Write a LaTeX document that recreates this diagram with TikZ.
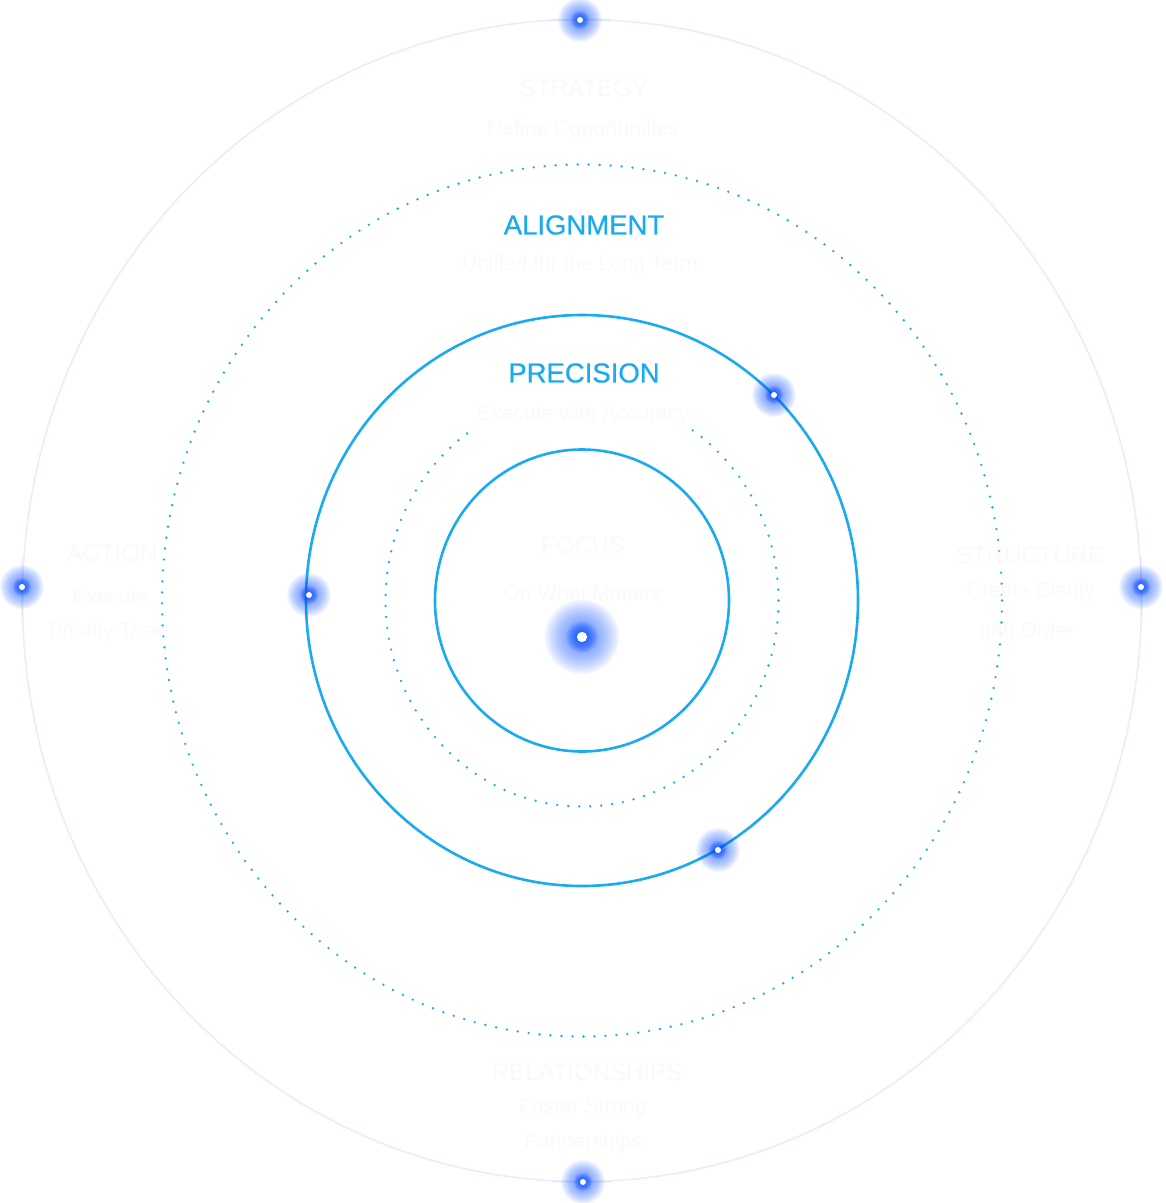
\documentclass[tikz,border=0pt]{standalone}
\usepackage{fontspec}
\setmainfont{Liberation Sans}
\newfontfamily\labfont{Liberation Sans}[FakeBold=0.6]
\definecolor{sky}{RGB}{26,170,240}
\definecolor{glowblue}{RGB}{10,80,255}
\definecolor{faintring}{RGB}{236,236,250}
\definecolor{ghost}{RGB}{250,250,252}
\newcommand\glowat[2]{%
  \foreach \r in {22,21,...,3}{%
    \fill[glowblue,opacity=0.045] (#1) circle[radius=\r*#2];}
  \foreach \r in {9,8,...,4}{%
    \fill[glowblue,opacity=0.14] (#1) circle[radius=\r*#2];}
  \fill[white] (#1) circle[radius=3*#2];
}
\begin{document}
\begin{tikzpicture}[x=1pt,y=-1pt,
  ringlabel/.style={text=sky,font=\labfont\fontsize{27.5}{30}\selectfont,inner sep=0pt},
  ghosthead/.style={text=ghost,font=\fontsize{24}{28}\selectfont,inner sep=0pt},
  ghostsub/.style={text=ghost,font=\fontsize{21}{25}\selectfont,inner sep=0pt},
  solidring/.style={draw=sky,line width=2.6},
  dotring/.style={draw=sky,line width=2.6,line cap=round,dash pattern=on 0pt off 11pt},
]
\useasboundingbox (0,0) rectangle (1166,1203);
\fill[white] (0,0) rectangle (1166,1203);
\coordinate (c) at (582,600.5);
% rings
\draw[draw=faintring,line width=1.6] (c) ellipse [x radius=559.5, y radius=581];
\draw[dotring] (c) ellipse [x radius=420, y radius=436];
\draw[solidring] (c) ellipse [x radius=276, y radius=285.5];
\draw[dotring] (c) ellipse [x radius=196.5, y radius=206];
\draw[solidring] (c) ellipse [x radius=147, y radius=151];
% ghost texts
\node[ghosthead] (t1) at (584,88) {STRATEGY};
\node[ghostsub] (t2) at (583,130) {Define Opportunities};
\node[ringlabel] (al) at (584,225) {ALIGNMENT};
\node[ghostsub] (t3) at (580,265) {Unified for the Long Term};
\node[ringlabel] (pr) at (584,373) {PRECISION};
\node[ghostsub,fill=white,inner ysep=15pt,inner xsep=2pt] (t4) at (583,415) {Execute with Accuracy};
\node[ghosthead] (t5) at (583,545) {FOCUS};
\node[ghostsub] (t6) at (583,593) {On What Matters};
\node[ghosthead] (t7) at (112,553) {ACTION};
\node[ghostsub] (t8) at (110,597) {Execute};
\node[ghostsub] (t9) at (111,632) {Priority Tasks};
\node[ghosthead] (t10) at (1030,555) {STRUCTURE};
\node[ghostsub] (t11) at (1031,592) {Create Clarity};
\node[ghostsub] (t12) at (1027,630) {and Order};
\node[ghosthead] (t13) at (587,1072) {RELATIONSHIPS};
\node[ghostsub] (t14) at (583,1108) {Foster Strong};
\node[ghostsub] (t15) at (583,1143) {Partnerships};
% glow dots
\coordinate (dtop) at (580,20);
\coordinate (dleft) at (22,587);
\coordinate (dright) at (1141,587);
\coordinate (dbottom) at (583,1182);
\coordinate (dm1) at (309,595);
\coordinate (dm2) at (774,395);
\coordinate (dm3) at (718,850);
\coordinate (dcenter) at (582,637);
\foreach \p in {dtop,dbottom}{
  \fill[glowblue,opacity=0.05] ([xshift=-30pt,yshift=-0.8pt]\p) rectangle ([xshift=30pt,yshift=0.8pt]\p);
}
\foreach \p in {dleft,dright}{
  \fill[glowblue,opacity=0.05] ([yshift=-30pt,xshift=-0.8pt]\p) rectangle ([yshift=30pt,xshift=0.8pt]\p);
}
\foreach \p in {dtop,dleft,dright,dbottom,dm1,dm2,dm3}{\glowat{\p}{1}}
\glowat{dcenter}{1.7}
\end{tikzpicture}
\end{document}
